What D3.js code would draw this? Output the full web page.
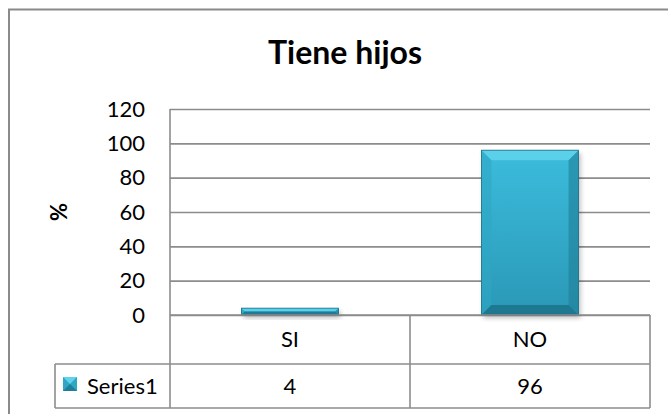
<!DOCTYPE html>
<html><head><meta charset="utf-8">
<script src="https://cdn.jsdelivr.net/npm/d3@7"></script>
<style>body{margin:0;background:#fff}svg{display:block}text{font-family:Lato,"Open Sans",sans-serif}</style>
</head><body><svg id="c" width="668" height="414"></svg>
<script>
const title = "Tiene hijos";
const categories = ["SI", "NO"];
const seriesName = "Series1";
const values = [4, 96];
const yTicks = [0, 20, 40, 60, 80, 100, 120];
const yLabel = "%";

const svg = d3.select("#c");
const L = 170, R = 650, T = 109, B = 315, row1 = 364, row2 = 408, legL = 55;
const grid = "#8c8c8c";
const fs = 22;

svg.append("rect").attr("x",9).attr("y",9.5).attr("width",700).attr("height",450)
  .attr("fill","#fff").attr("stroke","#8a8a8a").attr("stroke-width",2);

const y = d3.scaleLinear().domain([0,120]).range([B,T]);
const x = d3.scaleBand().domain(categories).range([L,R]).padding(0);

const defs = svg.append("defs");
const g1 = defs.append("linearGradient").attr("id","bf").attr("x1",0).attr("x2",0).attr("y1",0).attr("y2",1);
g1.append("stop").attr("offset","0").attr("stop-color","#3cbcdc");
g1.append("stop").attr("offset","1").attr("stop-color","#2a98b6");
const sh = defs.append("filter").attr("id","sh").attr("x","-20%").attr("y","-20%").attr("width","140%").attr("height","140%");
sh.append("feGaussianBlur").attr("stdDeviation",2.5);

const ax = svg.append("g").attr("transform",`translate(${L},0)`)
  .call(d3.axisLeft(y).tickValues(yTicks).tickSize(-(R-L)).tickPadding(25));
ax.select(".domain").remove();
ax.selectAll(".tick line").attr("stroke",grid).attr("stroke-width",1.6);
ax.selectAll(".tick text").attr("font-size",fs).attr("fill","#000").attr("font-family","Lato");

svg.append("line").attr("x1",L).attr("x2",L).attr("y1",T).attr("y2",row2).attr("stroke",grid).attr("stroke-width",1.6);

const bw = x.bandwidth()*0.405;
const bars = svg.append("g");
categories.forEach((c,i)=>{
  const x0 = x(c) + (x.bandwidth()-bw)/2, x1 = x0+bw, y0 = y(values[i]), y1 = y(0);
  const h = y1-y0, e = Math.min(10, h/2);
  bars.append("rect").attr("x",x0+2).attr("y",y0+3).attr("width",bw).attr("height",h)
    .attr("fill","#000").attr("opacity",0.25).attr("filter","url(#sh)");
  bars.append("rect").attr("x",x0).attr("y",y0).attr("width",bw).attr("height",h).attr("fill","url(#bf)");
  bars.append("polygon").attr("points",`${x0},${y0} ${x1},${y0} ${x1-e},${y0+e} ${x0+e},${y0+e}`).attr("fill","#5fd3ec").attr("opacity",0.9);
  bars.append("polygon").attr("points",`${x0},${y0} ${x0+e},${y0+e} ${x0+e},${y1-e} ${x0},${y1}`).attr("fill","#2fa6c4").attr("opacity",0.6);
  bars.append("polygon").attr("points",`${x1},${y0} ${x1-e},${y0+e} ${x1-e},${y1-e} ${x1},${y1}`).attr("fill","#1f7f98").attr("opacity",0.6);
  bars.append("polygon").attr("points",`${x0},${y1} ${x0+e},${y1-e} ${x1-e},${y1-e} ${x1},${y1}`).attr("fill","#1b6f86").attr("opacity",0.8);
  bars.append("rect").attr("x",x0).attr("y",y0).attr("width",bw).attr("height",h).attr("fill","none").attr("stroke","#1c6e84").attr("stroke-width",0.8);
});

svg.append("line").attr("x1",L).attr("x2",R).attr("y1",B).attr("y2",B).attr("stroke",grid).attr("stroke-width",1.6);

const tl = (x1,y1,x2,y2)=>svg.append("line").attr("x1",x1).attr("y1",y1).attr("x2",x2).attr("y2",y2).attr("stroke",grid).attr("stroke-width",1.6);
tl(legL,row1,R,row1); tl(legL,row2,R,row2); tl(legL,row1,legL,row2); tl(R,B,R,row2);
categories.forEach((c,i)=>{ if(i>0) tl(x(c),B,x(c),row2); });
svg.selectAll(".cat").data(categories).enter().append("text")
  .attr("x",d=>x(d)+x.bandwidth()/2).attr("y",(B+row1)/2).attr("dy","0.36em")
  .attr("text-anchor","middle").attr("font-size",fs).text(d=>d);
svg.selectAll(".val").data(values).enter().append("text")
  .attr("x",(d,i)=>x(categories[i])+x.bandwidth()/2).attr("y",(row1+row2)/2).attr("dy","0.36em")
  .attr("text-anchor","middle").attr("font-size",fs).text(d=>d);
const kx=63, ky=377, ks=14;
svg.append("rect").attr("x",kx).attr("y",ky).attr("width",ks).attr("height",ks).attr("fill","#2fa6c4");
svg.append("polygon").attr("points",`${kx},${ky} ${kx+ks},${ky} ${kx+ks/2},${ky+ks/2}`).attr("fill","#5fd3ec");
svg.append("polygon").attr("points",`${kx},${ky+ks} ${kx+ks},${ky+ks} ${kx+ks/2},${ky+ks/2}`).attr("fill","#1f7f98");
svg.append("text").attr("x",87).attr("y",(row1+row2)/2).attr("dy","0.36em").attr("font-size",fs).text(seriesName);

svg.append("text").attr("x",345).attr("y",64).attr("text-anchor","middle").attr("font-size",32).attr("font-weight","bold").text(title);
svg.append("text").attr("transform",`translate(59,${(T+B)/2}) rotate(-90)`).attr("dy","0.36em")
  .attr("text-anchor","middle").attr("font-size",fs).attr("font-weight","bold").text(yLabel);
</script></body></html>
